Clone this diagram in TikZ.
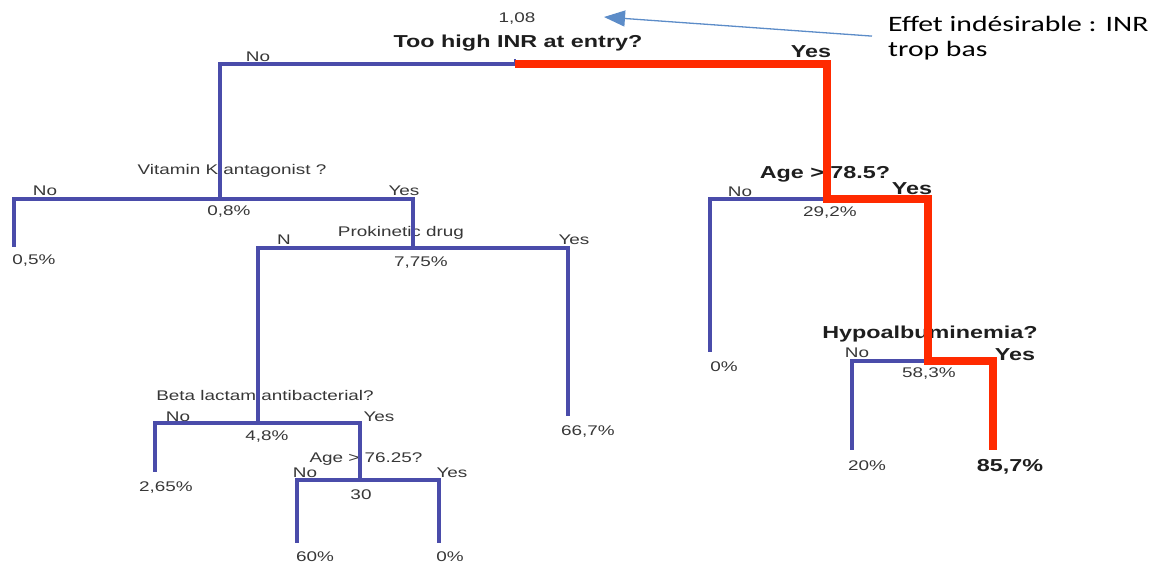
\documentclass[tikz,border=0pt]{standalone}
\usepackage{fontspec}
\usetikzlibrary{arrows.meta}
\newfontfamily\treefont{Liberation Sans}[FakeStretch=1.35]
\newfontfamily\notefont{Carlito}[FakeStretch=1.35]
\definecolor{treeblue}{RGB}{74,76,170}
\definecolor{hotred}{RGB}{255,42,0}
\definecolor{txtgray}{RGB}{55,55,55}
\definecolor{txtdark}{RGB}{30,30,30}
\definecolor{noteblue}{RGB}{92,140,200}
\begin{document}
\begin{tikzpicture}[x=1pt,y=-1pt,
  lbl/.style={font=\treefont\fontsize{14}{16}\selectfont,text=txtgray,inner sep=0pt},
  blbl/.style={font=\treefont\bfseries\fontsize{17.3}{19}\selectfont,text=txtdark,inner sep=0pt},
  blueedge/.style={draw=treeblue,line width=3.5pt,line join=miter},
  hotedge/.style={draw=hotred,line width=8pt,line join=miter},
  notetext/.style={font=\notefont\fontsize{22}{25}\selectfont,text=black,inner sep=0pt,align=left,anchor=north west}]
\useasboundingbox (0,0) rectangle (1157,563);

% split points and leaf ends of the tree
\coordinate (root) at (515,64);
\coordinate (vka)  at (220,199);
\coordinate (pro)  at (413,248);
\coordinate (beta) at (258,423);
\coordinate (a76)  at (360,480);
\coordinate (a78)  at (827,199);
\coordinate (hypo) at (928,361);
\coordinate (l05)  at (14,247);
\coordinate (l667) at (568,416);
\coordinate (l265) at (155,472);
\coordinate (l60)  at (297,543);
\coordinate (l0a)  at (439,543);
\coordinate (l0b)  at (710,352);
\coordinate (l20)  at (852,450);
\coordinate (l857) at (993,450);

% root question
\node[lbl]  (n108)  at (517,19) {1,08};
\node[blbl] (qroot) at (518,43) {Too high INR at entry?};
\node[lbl]  (rno)   at (258,57) {No};
\node[blbl] (ryes)  at (811,52) {Yes};

% vitamin K antagonist
\node[lbl] (qvka)  at (232,171) {Vitamin K antagonist ?};
\node[lbl] (vno)   at (45,191)  {No};
\node[lbl] (vyes)  at (404,191) {Yes};
\node[lbl] (vpct)  at (229,212) {0,8\%};
\node[lbl] (t05)   at (34,261)  {0,5\%};

% prokinetic drug
\node[lbl] (qpro)  at (401,233) {Prokinetic drug};
\node[lbl] (pno)   at (284,240) {N};
\node[lbl] (pyes)  at (574,240) {Yes};
\node[lbl] (ppct)  at (421,263) {7,75\%};
\node[lbl] (t667)  at (588,431) {66,7\%};

% beta lactam antibacterial
\node[lbl] (qbeta) at (265,395) {Beta lactam antibacterial?};
\node[lbl] (bno)   at (178,417) {No};
\node[lbl] (byes)  at (379,417) {Yes};
\node[lbl] (bpct)  at (267,437) {4,8\%};
\node[lbl] (t265)  at (166,487) {2,65\%};

% age > 76.25
\node[lbl] (q76)   at (366,459) {Age > 76.25?};
\node[lbl] (ano)   at (305,473) {No};
\node[lbl] (ayes)  at (452,473) {Yes};
\node[lbl] (apct)  at (361,495) {30};
\node[lbl] (t60)   at (315,557) {60\%};
\node[lbl] (t0a)   at (450,557) {0\%};

% age > 78.5
\node[blbl] (q78)  at (825,174) {Age > 78.5?};
\node[lbl]  (gno)  at (740,192) {No};
\node[blbl] (gyes) at (912,189) {Yes};
\node[lbl]  (gpct) at (830,213) {29,2\%};
\node[lbl]  (t0b)  at (724,367) {0\%};

% hypoalbuminemia
\node[blbl] (qhyp) at (930,334) {Hypoalbuminemia?};
\node[lbl]  (hno)  at (857,353) {No};
\node[blbl] (hyes) at (1015,355) {Yes};
\node[lbl]  (hpct) at (929,374) {58,3\%};
\node[lbl]  (t20)  at (867,466) {20\%};
\node[blbl] (t857) at (1010,467) {85,7\%};

% annotation
\node[notetext] (note) at (888,16) {Effet indésirable : INR\\trop bas};
\coordinate (notetip) at (604,17);
\draw[noteblue,line width=1.3pt,-{Triangle[length=21pt,width=16pt]}]
  (note.west) ++(-16,-2) coordinate (notetail) (notetail) -- (notetip);

% tree branches
\draw[blueedge] (root) -| (vka);
\draw[blueedge,line width=2pt] (root) -- ++(0,-5);
\draw[blueedge] (vka) -| (l05);
\draw[blueedge] (vka) -| (pro);
\draw[blueedge] (pro) -| (beta);
\draw[blueedge] (pro) -| (l667);
\draw[blueedge] (beta) -| (l265);
\draw[blueedge] (beta) -| (a76);
\draw[blueedge] (a76) -| (l60);
\draw[blueedge] (a76) -| (l0a);
\draw[blueedge] (a78) -| (l0b);
\draw[blueedge] (hypo) -| (l20);
\draw[hotedge] (root) -| (a78) -| (hypo) -| (l857);
\end{tikzpicture}
\end{document}
